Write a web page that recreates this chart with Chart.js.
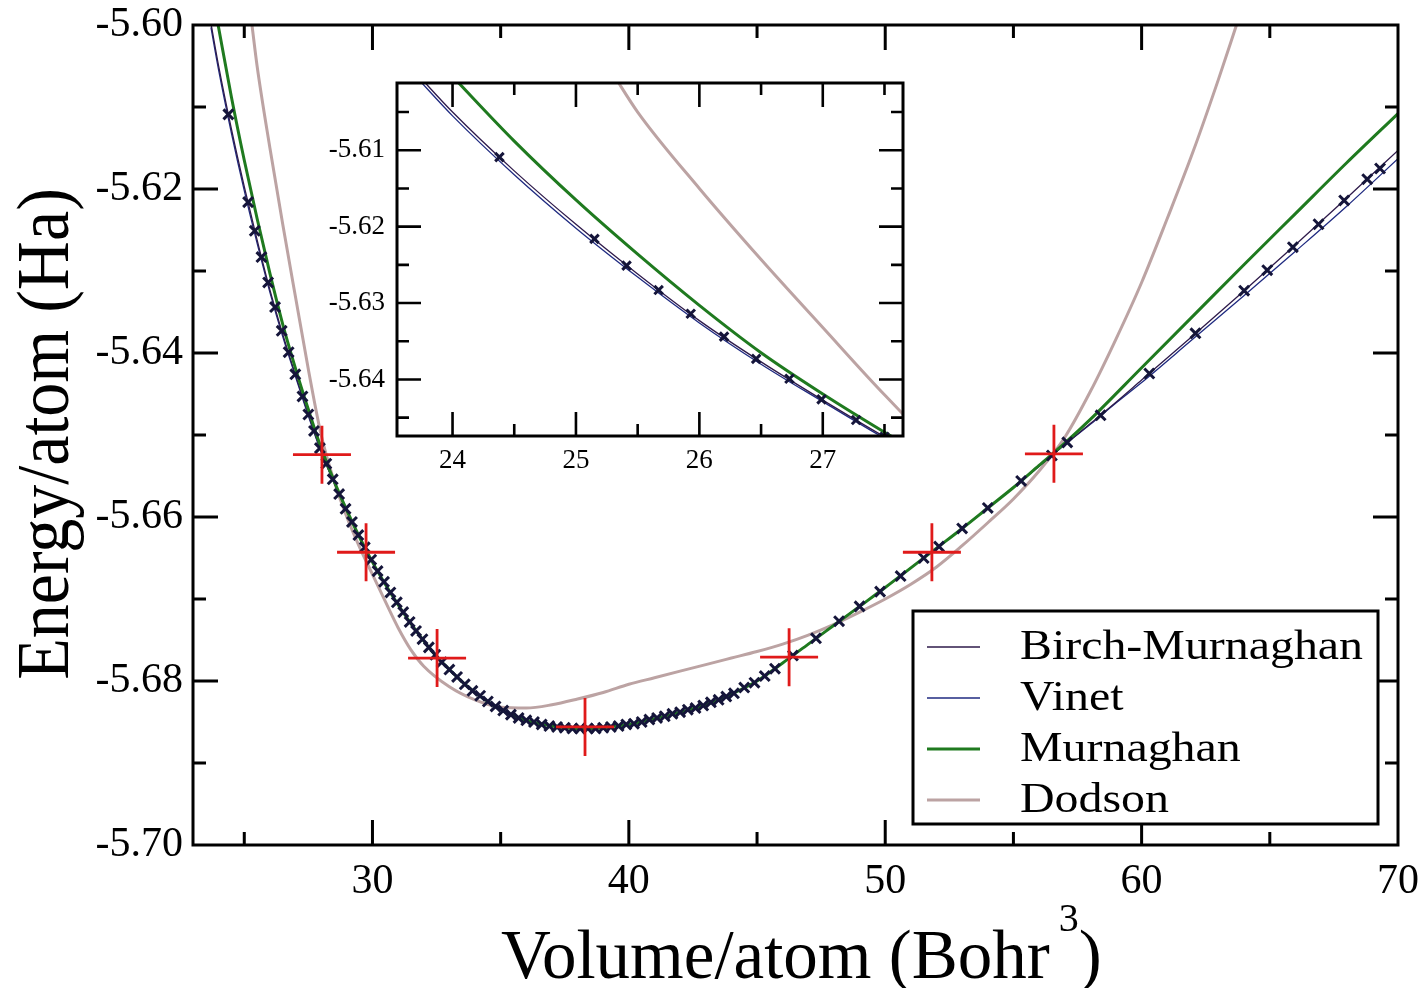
<!DOCTYPE html>
<html><head><meta charset="utf-8">
<script src="https://cdn.jsdelivr.net/npm/chart.js@4.4.0/dist/chart.umd.min.js"></script>
<style>
html,body{margin:0;padding:0;background:#fff;}
#wrap{position:relative;width:1426px;height:988px;overflow:hidden;}
#main{position:absolute;left:0;top:0;}
#inset{position:absolute;left:290px;top:60px;}
</style></head><body>
<div id="wrap"><canvas id="main" width="1426" height="988"></canvas><canvas id="inset" width="640" height="440"></canvas></div>
<script>
// ---------- DATA ----------
const seriesLabels = ['Birch-Murnaghan', 'Vinet', 'Murnaghan', 'Dodson'];

const bmV = [23.7,24.0,24.5,25.0,25.5,26.0,26.5,27.0,27.5,28.0,28.5,29.0,29.5,30.0,30.5,31.0,31.5,32.0,32.5,33.0,33.5,34.0,34.5,35.0,35.5,36.0,36.5,37.0,37.5,38.0,38.5,39.0,39.5,40.0,41.0,42.0,43.0,44.0,45.0,46.0,47.0,48.0,49.0,50.0,51.0,52.0,53.0,54.0,55.0,56.0,57.0,58.0,59.0,60.0,62.0,64.0,66.0,68.0,70.0];
const bmE = [-5.5998,-5.6050,-5.6127,-5.6197,-5.6262,-5.6323,-5.6377,-5.6427,-5.6475,-5.6520,-5.6558,-5.6593,-5.6625,-5.6655,-5.6682,-5.6707,-5.6730,-5.6751,-5.6770,-5.6786,-5.6801,-5.6814,-5.6825,-5.6835,-5.6842,-5.6848,-5.6852,-5.6855,-5.6857,-5.6858,-5.6858,-5.6857,-5.6855,-5.6853,-5.6846,-5.6838,-5.6829,-5.6816,-5.6800,-5.6778,-5.6755,-5.6732,-5.6709,-5.6686,-5.6662,-5.6638,-5.6614,-5.6589,-5.6564,-5.6538,-5.6512,-5.6486,-5.6460,-5.6433,-5.6379,-5.6324,-5.6268,-5.6211,-5.6153];

const vinetV = [23.7,24.0,24.5,25.0,25.5,26.0,26.5,27.0,27.5,28.0,28.5,29.0,29.5,30.0,30.5,31.0,31.5,32.0,32.5,33.0,33.5,34.0,34.5,35.0,35.5,36.0,36.5,37.0,37.5,38.0,38.5,39.0,39.5,40.0,41.0,42.0,43.0,44.0,45.0,46.0,47.0,48.0,49.0,50.0,51.0,52.0,53.0,54.0,55.0,56.0,57.0,58.0,59.0,60.0,62.0,64.0,66.0,68.0,70.0];
const vinetE = [-5.6003,-5.6055,-5.6132,-5.6202,-5.6266,-5.6326,-5.6380,-5.6429,-5.6477,-5.6521,-5.6558,-5.6593,-5.6625,-5.6655,-5.6682,-5.6707,-5.6730,-5.6751,-5.6770,-5.6786,-5.6801,-5.6814,-5.6825,-5.6835,-5.6842,-5.6848,-5.6852,-5.6855,-5.6857,-5.6858,-5.6858,-5.6857,-5.6855,-5.6853,-5.6846,-5.6838,-5.6829,-5.6816,-5.6800,-5.6778,-5.6755,-5.6732,-5.6709,-5.6686,-5.6662,-5.6638,-5.6614,-5.6589,-5.6564,-5.6538,-5.6512,-5.6487,-5.6461,-5.6436,-5.6383,-5.6330,-5.6276,-5.6221,-5.6163];

const murnV = [23.98,24.5,25.0,25.5,26.0,26.5,27.0,27.5,28.0,28.5,29.0,29.5,30.0,30.5,31.0,31.5,32.0,32.5,33.0,33.5,34.0,34.5,35.0,35.5,36.0,36.5,37.0,37.5,38.0,38.5,39.0,39.5,40.0,41.0,42.0,43.0,44.0,45.0,46.0,47.0,48.0,49.0,50.0,51.0,52.0,53.0,54.0,55.0,56.0,57.0,58.0,60.0,62.0,64.0,66.0,68.0,70.0];
const murnE = [-5.6000,-5.6088,-5.6165,-5.6236,-5.6303,-5.6365,-5.6419,-5.6469,-5.6516,-5.6556,-5.6592,-5.6625,-5.6655,-5.6682,-5.6707,-5.6730,-5.6751,-5.6770,-5.6786,-5.6801,-5.6814,-5.6825,-5.6835,-5.6842,-5.6848,-5.6852,-5.6855,-5.6857,-5.6858,-5.6858,-5.6857,-5.6855,-5.6853,-5.6846,-5.6838,-5.6829,-5.6816,-5.6800,-5.6778,-5.6755,-5.6732,-5.6709,-5.6686,-5.6662,-5.6638,-5.6614,-5.6589,-5.6564,-5.6537,-5.6510,-5.6481,-5.6418,-5.6355,-5.6292,-5.6230,-5.6168,-5.6108];

const dodV = [25.3,25.5,26.0,26.5,27.0,27.5,28.0,28.5,29.0,29.5,30.0,30.5,31.0,31.5,32.0,33.0,34.0,35.0,36.0,37.0,38.0,39.0,40.0,41.0,42.0,43.0,44.0,45.0,46.0,47.0,48.0,49.0,50.0,51.0,52.0,53.0,54.0,55.0,56.0,57.0,58.0,59.0,60.0,61.0,62.0,63.0,63.7];
const dodE = [-5.6000,-5.6050,-5.6150,-5.6243,-5.6332,-5.6420,-5.6500,-5.6556,-5.6600,-5.6637,-5.6670,-5.6703,-5.6735,-5.6762,-5.6782,-5.6807,-5.6823,-5.6832,-5.6833,-5.6829,-5.6822,-5.6814,-5.6804,-5.6796,-5.6788,-5.6780,-5.6772,-5.6764,-5.6755,-5.6744,-5.6731,-5.6716,-5.6700,-5.6682,-5.6661,-5.6635,-5.6607,-5.6578,-5.6544,-5.6503,-5.6447,-5.6383,-5.6314,-5.6236,-5.6155,-5.6066,-5.6000];

const dataV = [24.38,25.15,25.41,25.67,25.93,26.20,26.46,26.73,26.99,27.27,27.50,27.72,27.95,28.20,28.45,28.70,28.95,29.20,29.45,29.70,29.95,30.20,30.45,30.70,30.95,31.20,31.45,31.70,31.95,32.20,32.45,32.70,33.00,33.30,33.60,33.90,34.20,34.50,34.80,35.10,35.40,35.70,36.00,36.30,36.60,36.90,37.20,37.50,37.80,38.10,38.40,38.70,39.00,39.30,39.60,39.90,40.20,40.50,40.80,41.10,41.40,41.70,42.00,42.30,42.60,42.90,43.20,43.50,43.80,44.10,44.50,44.90,45.30,45.70,46.40,47.30,48.20,49.00,49.80,50.60,51.50,52.10,53.00,54.00,55.30,56.50,57.10,58.40,60.30,62.10,64.00,64.90,65.90,66.90,67.90,68.80,69.30];
const dataE = [-5.6109,-5.6216,-5.6251,-5.6283,-5.6314,-5.6344,-5.6373,-5.6399,-5.6426,-5.6453,-5.6475,-5.6495,-5.6516,-5.6535,-5.6554,-5.6572,-5.6590,-5.6606,-5.6622,-5.6637,-5.6652,-5.6666,-5.6679,-5.6692,-5.6704,-5.6716,-5.6728,-5.6739,-5.6749,-5.6759,-5.6768,-5.6777,-5.6786,-5.6795,-5.6804,-5.6812,-5.6818,-5.6825,-5.6831,-5.6836,-5.6841,-5.6845,-5.6848,-5.6850,-5.6853,-5.6855,-5.6856,-5.6857,-5.6858,-5.6858,-5.6858,-5.6858,-5.6857,-5.6856,-5.6855,-5.6853,-5.6852,-5.6850,-5.6847,-5.6845,-5.6843,-5.6840,-5.6838,-5.6835,-5.6833,-5.6830,-5.6826,-5.6823,-5.6819,-5.6815,-5.6808,-5.6802,-5.6794,-5.6785,-5.6769,-5.6748,-5.6727,-5.6709,-5.6691,-5.6672,-5.6650,-5.6636,-5.6614,-5.6589,-5.6556,-5.6525,-5.6509,-5.6476,-5.6425,-5.6376,-5.6324,-5.6299,-5.6271,-5.6243,-5.6214,-5.6188,-5.6175];

const fitV = [28.03,29.75,32.52,38.29,46.25,51.82,56.58];
const fitE = [-5.6524,-5.6643,-5.6772,-5.6856,-5.6771,-5.6643,-5.6523];

const xMajorTicks = [30,40,50,60,70];
const xMinorTicks = [25,35,45,55,65];
const yMajorTicks = [-5.70,-5.68,-5.66,-5.64,-5.62,-5.60];
const yMinorTicks = [-5.69,-5.67,-5.65,-5.63,-5.61];

const insetXMajor = [24,25,26,27];
const insetXMinor = [24.5,25.5,26.5,27.5];
const insetYMajor = [-5.64,-5.63,-5.62,-5.61];
const insetYMinor = [-5.645,-5.635,-5.625,-5.615,-5.605];

const xTitle = 'Volume/atom (Bohr';
const xTitleSup = '3';
const xTitleEnd = ')';
const yTitle = 'Energy/atom (Ha)';

// ---------- STYLE ----------
const SERIF = '"Liberation Serif", "Times New Roman", Times, serif';
Chart.defaults.font.family = SERIF;
Chart.defaults.color = '#000';
const colors = ['#2e1a4a', '#1f2a80', '#1f7a1f', '#bca3a3'];
const widths = [1.3, 1.3, 3, 3];

function pts(xs, ys){ return xs.map((v,i)=>({x:v, y:ys[i]})); }

function makeDatasets(markerRadius){
  return [
    {label: seriesLabels[0], data: pts(bmV,bmE), showLine:true, pointRadius:0, borderColor:colors[0], borderWidth:widths[0], cubicInterpolationMode:'monotone', order:3},
    {label: seriesLabels[1], data: pts(vinetV,vinetE), showLine:true, pointRadius:0, borderColor:colors[1], borderWidth:widths[1], cubicInterpolationMode:'monotone', order:4},
    {label: seriesLabels[2], data: pts(murnV,murnE), showLine:true, pointRadius:0, borderColor:colors[2], borderWidth:widths[2], cubicInterpolationMode:'monotone', order:2},
    {label: seriesLabels[3], data: pts(dodV,dodE), showLine:true, pointRadius:0, borderColor:colors[3], borderWidth:widths[3], cubicInterpolationMode:'monotone', order:5},
    {label: 'data', data: pts(dataV,dataE), showLine:false, pointStyle:'crossRot', pointRadius:markerRadius, borderColor:'#15153a', backgroundColor:'#15153a', pointBorderWidth:3, order:1},
    {label: 'fit points', data: pts(fitV,fitE), showLine:false, pointStyle:'cross', pointRadius:29, borderColor:'#e01a1a', backgroundColor:'#e01a1a', pointBorderWidth:2.8, order:0}
  ];
}

function noScalePadding(s){ s.paddingTop = 0; s.paddingBottom = 0; s.paddingLeft = 0; s.paddingRight = 0; }

function frameAndTicks(chart, o){
  const {ctx, chartArea:a} = chart;
  const x = chart.scales.x, y = chart.scales.y;
  ctx.save();
  ctx.strokeStyle = '#000';
  ctx.lineCap = 'butt';
  ctx.lineWidth = o.tickWidth;
  const xt = (vals, len) => vals.forEach(v => {
    const p = x.getPixelForValue(v);
    if (p < a.left + 1 || p > a.right - 1) return;
    ctx.beginPath();
    ctx.moveTo(p, a.bottom); ctx.lineTo(p, a.bottom - len);
    ctx.moveTo(p, a.top); ctx.lineTo(p, a.top + len);
    ctx.stroke();
  });
  const yt = (vals, len) => vals.forEach(v => {
    const p = y.getPixelForValue(v);
    if (p < a.top + 1 || p > a.bottom - 1) return;
    ctx.beginPath();
    ctx.moveTo(a.left, p); ctx.lineTo(a.left + len, p);
    ctx.moveTo(a.right, p); ctx.lineTo(a.right - len, p);
    ctx.stroke();
  });
  xt(o.xMajor, o.major); xt(o.xMinor, o.minor);
  yt(o.yMajor, o.major); yt(o.yMinor, o.minor);
  ctx.lineWidth = o.frameWidth;
  ctx.strokeRect(a.left, a.top, a.right - a.left, a.bottom - a.top);
  ctx.restore();
}

const mainDecor = {
  id: 'mainDecor',
  beforeDraw(chart){
    const ctx = chart.ctx;
    ctx.save(); ctx.fillStyle = '#fff'; ctx.fillRect(0,0,chart.width,chart.height); ctx.restore();
  },
  afterDraw(chart){
    frameAndTicks(chart, {xMajor:xMajorTicks, xMinor:xMinorTicks, yMajor:yMajorTicks, yMinor:yMinorTicks, major:25, minor:13, tickWidth:3, frameWidth:3});
    const ctx = chart.ctx;
    // axis titles
    ctx.save();
    ctx.fillStyle = '#000';
    ctx.font = '68px ' + SERIF;
    ctx.textAlign = 'center'; ctx.textBaseline = 'alphabetic';
    ctx.translate(68, 434);
    ctx.scale(1.08, 1);
    ctx.rotate(-Math.PI/2);
    ctx.fillText(yTitle, 0, 0);
    ctx.restore();

    ctx.save();
    ctx.fillStyle = '#000';
    ctx.textAlign = 'left'; ctx.textBaseline = 'alphabetic';
    ctx.font = '69px ' + SERIF;
    let xs = 501;
    ctx.fillText(xTitle, xs, 978);
    xs += ctx.measureText(xTitle).width + 9;
    ctx.font = '40px ' + SERIF;
    ctx.fillText(xTitleSup, xs, 931);
    xs += ctx.measureText(xTitleSup).width;
    ctx.font = '69px ' + SERIF;
    ctx.fillText(xTitleEnd, xs, 978);
    ctx.restore();

    // legend box
    ctx.save();
    const bx = 913, by = 611, bw = 465, bh = 213;
    ctx.fillStyle = '#fff'; ctx.fillRect(bx, by, bw, bh);
    ctx.strokeStyle = '#000'; ctx.lineWidth = 3; ctx.strokeRect(bx, by, bw, bh);
    ctx.font = '42px ' + SERIF;
    ctx.textBaseline = 'alphabetic'; ctx.textAlign = 'left';
    for (let i = 0; i < 4; i++){
      const ds = chart.data.datasets[i];
      const base = 659 + i * 51;
      const ly = base - 12;
      ctx.strokeStyle = ds.borderColor;
      ctx.lineWidth = Math.max(ds.borderWidth, 1.6);
      ctx.beginPath(); ctx.moveTo(927, ly); ctx.lineTo(980, ly); ctx.stroke();
      ctx.save();
      ctx.translate(1020, base);
      ctx.scale(1.14, 1);
      ctx.fillStyle = '#000';
      ctx.fillText(ds.label, 0, 0);
      ctx.restore();
    }
    ctx.restore();
  }
};

new Chart(document.getElementById('main'), {
  type: 'scatter',
  data: { datasets: makeDatasets(7) },
  options: {
    responsive: false, animation: false, devicePixelRatio: 1, events: [],
    layout: { autoPadding: false, padding: { left: 0, right: 28, top: 25, bottom: 0 } },
    plugins: { legend: { display: false }, tooltip: { enabled: false } },
    scales: {
      x: {
        type: 'linear', position: 'bottom', min: 23, max: 70,
        afterFit: s => { s.height = 143; noScalePadding(s); },
        afterBuildTicks: s => { s.ticks = xMajorTicks.map(v => ({value: v})); },
        grid: { display: false, drawTicks: false }, border: { display: false },
        ticks: { font: { size: 42, family: SERIF }, color: '#000', padding: 12, maxRotation: 0, autoSkip: false, callback: v => String(v) }
      },
      y: {
        type: 'linear', position: 'left', min: -5.70, max: -5.60,
        afterFit: s => { s.width = 193; noScalePadding(s); },
        afterBuildTicks: s => { s.ticks = yMajorTicks.map(v => ({value: v})); },
        grid: { display: false, drawTicks: false }, border: { display: false },
        ticks: { font: { size: 42, family: SERIF }, color: '#000', padding: 10, autoSkip: false, callback: v => Number(v).toFixed(2) }
      }
    }
  },
  plugins: [mainDecor]
});

const insetDecor = {
  id: 'insetDecor',
  beforeDatasetsDraw(chart){
    const {ctx, chartArea:a} = chart;
    ctx.save(); ctx.fillStyle = '#fff'; ctx.fillRect(a.left, a.top, a.right - a.left, a.bottom - a.top); ctx.restore();
  },
  afterDraw(chart){
    frameAndTicks(chart, {xMajor:insetXMajor, xMinor:insetXMinor, yMajor:insetYMajor, yMinor:insetYMinor, major:24, minor:12, tickWidth:2.6, frameWidth:3});
  }
};

new Chart(document.getElementById('inset'), {
  type: 'scatter',
  data: { datasets: makeDatasets(6).slice(0, 5) },
  options: {
    responsive: false, animation: false, devicePixelRatio: 1, events: [],
    layout: { autoPadding: false, padding: { left: 0, right: 27, top: 23, bottom: 0 } },
    plugins: { legend: { display: false }, tooltip: { enabled: false } },
    scales: {
      x: {
        type: 'linear', position: 'bottom', min: 23.55, max: 27.65,
        afterFit: s => { s.height = 64; noScalePadding(s); },
        afterBuildTicks: s => { s.ticks = insetXMajor.map(v => ({value: v})); },
        grid: { display: false, drawTicks: false }, border: { display: false },
        ticks: { font: { size: 27, family: SERIF }, color: '#000', padding: 9, maxRotation: 0, autoSkip: false, callback: v => String(v) }
      },
      y: {
        type: 'linear', position: 'left', min: -5.6474, max: -5.6012,
        afterFit: s => { s.width = 107; noScalePadding(s); },
        afterBuildTicks: s => { s.ticks = insetYMajor.map(v => ({value: v})); },
        grid: { display: false, drawTicks: false }, border: { display: false },
        ticks: { font: { size: 27, family: SERIF }, color: '#000', padding: 12, autoSkip: false, callback: v => Number(v).toFixed(2) }
      }
    }
  },
  plugins: [insetDecor]
});
</script>
</body></html>
